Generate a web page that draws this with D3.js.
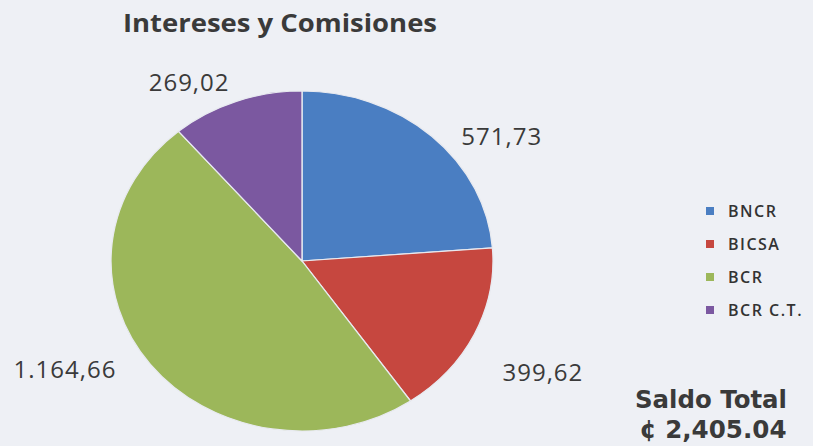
<!DOCTYPE html>
<html lang="es">
<head>
<meta charset="UTF-8">
<title>Intereses y Comisiones</title>
<style>
  body, html { margin: 0; padding: 0; background: #eef0f5; overflow: hidden; }
  svg { display: block; }
  .lbl { font-family: "Open Sans", sans-serif; font-size: 24px; fill: #3a3a3a; letter-spacing: 1px; }
  .leg { font-family: "Open Sans", sans-serif; font-size: 16px; font-weight: 600; fill: #333; letter-spacing: 1.5px; }
</style>
</head>
<body>
<svg id="chart" width="813" height="446"></svg>
<script src="https://cdnjs.cloudflare.com/ajax/libs/d3/7.8.5/d3.min.js"></script>
<script>
const categories = ["BNCR", "BICSA", "BCR", "BCR C.T."];
const values = [571.73, 399.62, 1164.66, 269.02];
const valueLabels = ["571,73", "399,62", "1.164,66", "269,02"];
const colors = ["#4a7ec2", "#c6473f", "#9cb75a", "#7b58a0"];
const totalLabel = "\u00a2 2,405.04";

const svg = d3.select("#chart");
const width = 813, height = 446;

// pie is drawn as a slightly wide ellipse, like in the original
const cx = 302, cy = 261, ry = 170, rx = 191;

const pie = d3.pie().sort(null).value(d => d);
const arcs = pie(values);
const arc = d3.arc().innerRadius(0).outerRadius(ry);

const g = svg.append("g")
    .attr("transform", `translate(${cx},${cy}) scale(${rx / ry},1)`);

g.selectAll("path")
    .data(arcs)
    .enter()
    .append("path")
    .attr("d", arc)
    .attr("fill", (d, i) => colors[i])
    .attr("stroke", "#e8eaf0")
    .attr("stroke-width", 1.2);

// data labels outside the pie (best fit, nudged by hand)
const labelArc = d3.arc().innerRadius(ry * 1.2).outerRadius(ry * 1.2);
const labelOffsets = [[44, 24], [34, 23], [-55, -17], [-34, 12]];
svg.selectAll("text.lbl")
    .data(arcs)
    .enter()
    .append("text")
    .attr("class", "lbl")
    .attr("x", (d, i) => cx + labelArc.centroid(d)[0] * rx / ry + labelOffsets[i][0])
    .attr("y", (d, i) => cy + labelArc.centroid(d)[1] + labelOffsets[i][1])
    .attr("text-anchor", "middle")
    .attr("dominant-baseline", "central")
    .text((d, i) => valueLabels[i]);

// title
svg.append("text")
    .attr("x", 280)
    .attr("y", 32)
    .attr("text-anchor", "middle")
    .attr("textLength", 314)
    .attr("lengthAdjust", "spacingAndGlyphs")
    .style("font-family", "'Open Sans', sans-serif")
    .style("font-weight", "bold")
    .style("font-size", "25px")
    .style("fill", "#3a3a3a")
    .text("Intereses y Comisiones");

// legend
const legY = d3.scalePoint().domain(categories).range([211, 310]);
const leg = svg.selectAll("g.legend")
    .data(categories)
    .enter()
    .append("g")
    .attr("class", "legend")
    .attr("transform", d => `translate(706,${legY(d)})`);
leg.append("rect")
    .attr("x", 0).attr("y", -4)
    .attr("width", 8).attr("height", 8)
    .attr("fill", (d, i) => colors[i]);
leg.append("text")
    .attr("class", "leg")
    .attr("x", 22)
    .attr("y", 0)
    .attr("dominant-baseline", "central")
    .text(d => d);

// total
const tot = svg.append("g")
    .style("font-family", "'DejaVu Sans', Verdana, sans-serif")
    .style("font-weight", "bold")
    .style("font-size", "25px")
    .style("fill", "#3a3a3a")
    .attr("text-anchor", "middle");
tot.append("text").attr("x", 711).attr("y", 408)
    .attr("textLength", 152).attr("lengthAdjust", "spacingAndGlyphs")
    .text("Saldo Total");
tot.append("text").attr("x", 713).attr("y", 438)
    .attr("textLength", 147).attr("lengthAdjust", "spacingAndGlyphs")
    .text(totalLabel);
</script>
</body>
</html>
